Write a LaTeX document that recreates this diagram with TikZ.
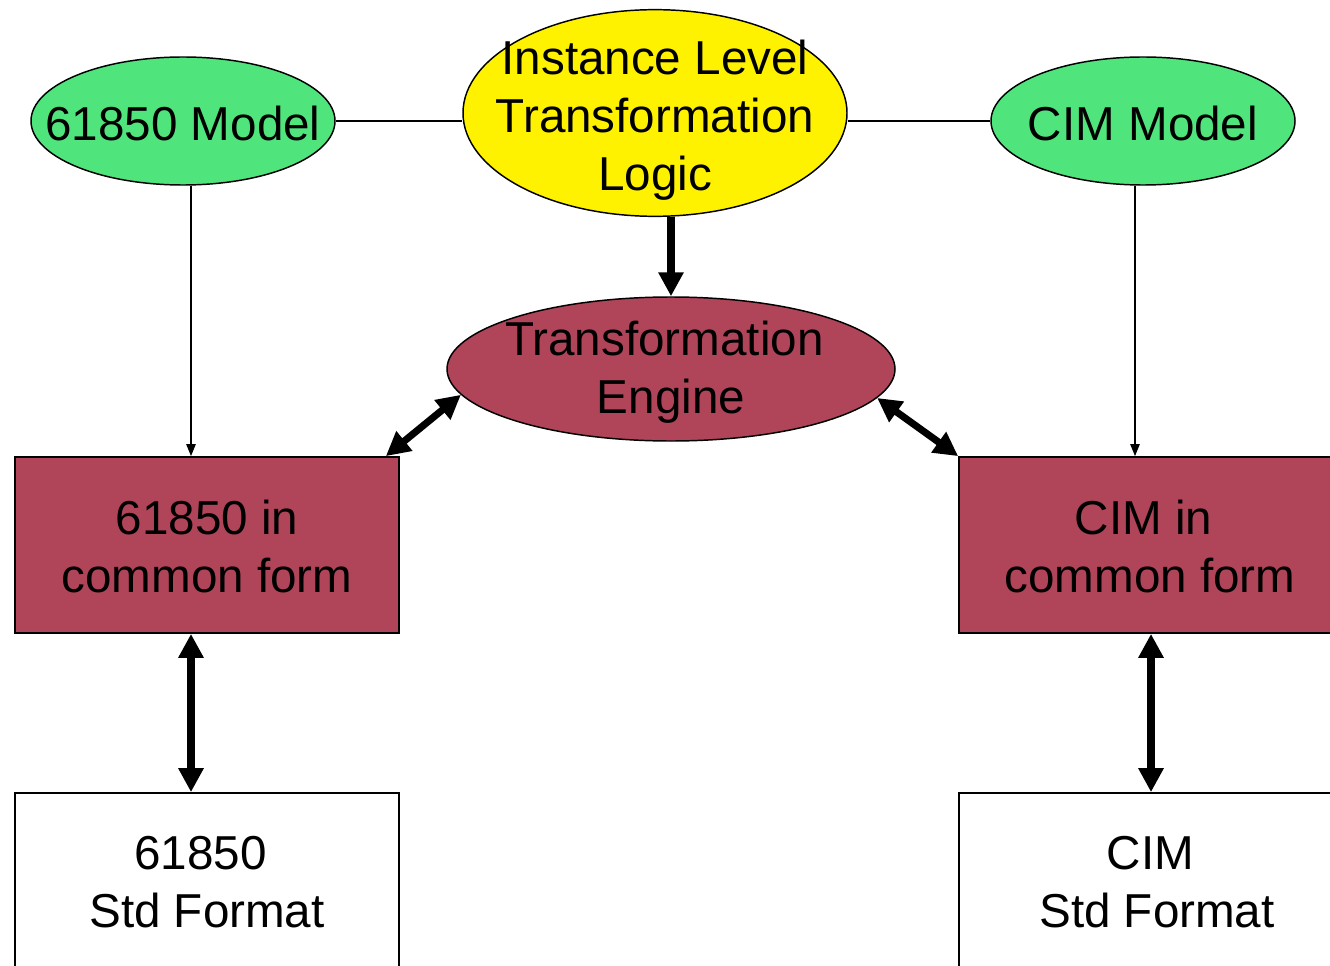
\documentclass[tikz,border=0pt]{standalone}
\usepackage{fontspec}
\setmainfont{Liberation Sans}
\usetikzlibrary{arrows.meta,shapes.geometric,calc}
\definecolor{mgreen}{RGB}{80,228,125}
\definecolor{maroon}{RGB}{176,68,89}
\newcommand{\tsp}{\kern\fontdimen2\font\relax}
\begin{document}
\begin{tikzpicture}[x=0.75pt,y=-0.75pt,
  txt/.style={font=\fontsize{35.7pt}{43.5pt}\selectfont, align=center, inner sep=0pt},
  oval/.style={ellipse, draw, line width=1.1pt, inner sep=0pt},
  box/.style={rectangle, draw, line width=1.3pt, inner sep=0pt, minimum width=288pt, minimum height=132pt},
  thinline/.style={line width=1.1pt},
  thinarrow/.style={line width=1.1pt, -{Triangle[length=9pt,width=7pt]}},
  thickarrow/.style={line width=5.3pt, -{Triangle[length=18pt,width=18pt]}},
  dblarrow/.style={line width=5.3pt, {Triangle[length=18pt,width=18pt]}-{Triangle[length=18pt,width=18pt]}}]
\useasboundingbox (0,0) rectangle (1330,966);
\clip (0,0) rectangle (1330,966);
% shapes
\node[oval, fill=mgreen, minimum width=228pt, minimum height=96pt] (m1) at (183,121) {};
\node[oval, fill=yellow, minimum width=288pt, minimum height=155pt] (y) at (655,113) {};
\node[oval, fill=mgreen, minimum width=228pt, minimum height=96pt] (m2) at (1143,121) {};
\node[oval, fill=maroon, minimum width=336pt, minimum height=108pt] (te) at (671,369) {};
\node[box, fill=maroon] (b1) at (207,545) {};
\node[box, fill=maroon] (b2) at (1151,545) {};
\node[box, fill=white] (s1) at (207,881) {};
\node[box, fill=white] (s2) at (1151,881) {};
% texts
\node[txt] (m1t) at (183,123) {61850 Model};
\node[txt] (yt) at (655,120) {Instance Level\\Transformation\\Logic};
\node[txt] (m2t) at (1143,123) {CIM Model};
\node[txt] (tet) at (671,372) {Transformation\tsp\\Engine};
\node[txt] (b1t) at (207,546) {61850 in\\common form};
\node[txt] (b2t) at (1150,546) {CIM in\tsp\\common form};
\node[txt] (s1t) at (207,882) {61850\tsp\\Std Format};
\node[txt] (s2t) at (1157,882) {CIM\tsp\\Std Format};
% connectors
\draw[thinline] (m1.east) -- (m1.east -| y.west);
\draw[thinline] (m2.west -| y.east) -- (m2.west);
\draw[thickarrow] (te.north |- y.south) -- (te.north);
\draw[thinarrow] ([xshift=6pt]m1.south) -- ([xshift=6pt]m1.south |- b1.north);
\draw[thinarrow] ([xshift=-6pt]m2.south) -- ([xshift=-6pt]m2.south |- b2.north);
\draw[dblarrow] ($(b1.north east)+(-14,0)$) -- (te.187.6);
\draw[dblarrow] (te.352.4) -- (b2.north west);
\draw[dblarrow] ([xshift=-12pt]b1.south) -- ([xshift=-12pt]s1.north);
\draw[dblarrow] (b2.south) -- (s2.north);
\end{tikzpicture}
\end{document}
